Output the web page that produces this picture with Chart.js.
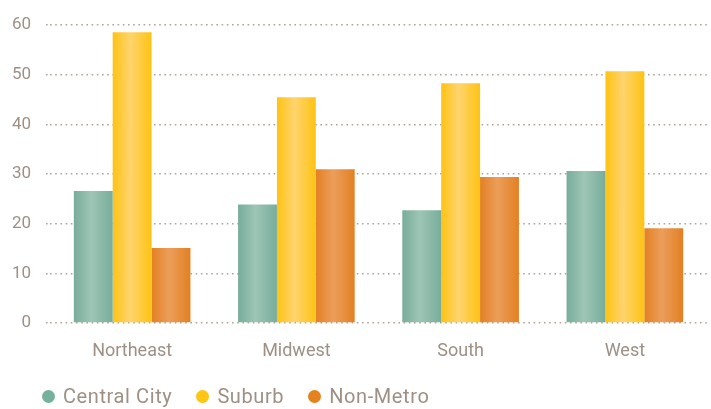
<!DOCTYPE html>
<html>
<head>
<meta charset="utf-8">
<script src="https://cdn.jsdelivr.net/npm/chart.js@4"></script>
<style>
  html, body { margin: 0; padding: 0; background: #fff; }
  #wrap { position: relative; width: 711px; height: 409px; }
  #legend {
    position: absolute; left: 42px; top: 384px;
    display: flex; align-items: center;
    font-family: Roboto, sans-serif; font-size: 20px; letter-spacing: 0.6px; color: #9e9084;
  }
  #legend .item { display: flex; align-items: center; margin-right: 24px; }
  #legend .dot { width: 13px; height: 13px; border-radius: 50%; margin-right: 8px; }
</style>
</head>
<body>
<div id="wrap">
  <canvas id="chart" width="711" height="409"></canvas>
  <div id="legend"></div>
</div>
<script>
const regions = ['Northeast', 'Midwest', 'South', 'West'];
const seriesNames = ['Central City', 'Suburb', 'Non-Metro'];
const centralCity = [26.6, 23.9, 22.7, 30.6];
const suburb = [58.6, 45.5, 48.3, 50.7];
const nonMetro = [15.1, 31.0, 29.4, 19.1];
const yTicks = [0, 10, 20, 30, 40, 50, 60];

// solid colour + [edge, middle] for the gradient
const solidColors = ['#77b09d', '#fdc514', '#e3821f'];
const gradColors = [
    ['#78ad9b', '#9ec5b6'],
    ['#fec312', '#fed46e'],
    ['#e38023', '#eb9e5a']
];

const textColor = '#9e9084';

// paint each bar with a horizontal gradient
const barGradient = {
    id: 'barGradient',
    beforeDatasetsDraw(chart) {
        const ctx = chart.ctx;
        chart.data.datasets.forEach((ds, i) => {
            const meta = chart.getDatasetMeta(i);
            meta.data.forEach(el => {
                const left = el.x - el.width / 2;
                const right = el.x + el.width / 2;
                const g = ctx.createLinearGradient(left, 0, right, 0);
                g.addColorStop(0, gradColors[i][0]);
                g.addColorStop(0.45, gradColors[i][1]);
                g.addColorStop(1, gradColors[i][0]);
                el.options = Object.assign({}, el.options, { backgroundColor: g });
            });
        });
    }
};

const datasets = [centralCity, suburb, nonMetro].map((values, i) => ({
    label: seriesNames[i],
    data: values,
    backgroundColor: solidColors[i],
    borderWidth: 0,
    barPercentage: 1,
    categoryPercentage: 0.71
}));

new Chart(document.getElementById('chart'), {
    type: 'bar',
    data: { labels: regions, datasets: datasets },
    plugins: [barGradient],
    options: {
        responsive: false,
        animation: false,
        layout: { padding: { left: 0, right: 4, top: 21, bottom: 40 } },
        plugins: {
            legend: { display: false },
            tooltip: { enabled: false }
        },
        scales: {
            x: {
                grid: { display: false, drawTicks: false },
                border: { display: false },
                ticks: {
                    color: textColor,
                    padding: 18,
                    font: { family: 'Roboto', size: 18 }
                },
                afterFit: function(scale) { scale.height = 46; }
            },
            y: {
                min: 0,
                max: 60,
                afterBuildTicks: function(scale) {
                    scale.ticks = yTicks.map(v => ({ value: v }));
                },
                grid: {
                    color: '#b0a498',
                    lineWidth: 1.6,
                    tickLength: 4,
                    tickColor: '#b0a498',
                    tickBorderDash: [1.6, 3.6]
                },
                border: { display: false, dash: [1.6, 3.6] },
                ticks: {
                    color: textColor,
                    padding: 15,
                    font: { family: 'Roboto', size: 17 }
                },
                afterFit: function(scale) { scale.width = 50; }
            }
        }
    }
});

// legend built from the same series arrays
const legend = document.getElementById('legend');
seriesNames.forEach((name, i) => {
    const item = document.createElement('div');
    item.className = 'item';
    const dot = document.createElement('span');
    dot.className = 'dot';
    dot.style.background = solidColors[i];
    const label = document.createElement('span');
    label.textContent = name;
    item.appendChild(dot);
    item.appendChild(label);
    legend.appendChild(item);
});
</script>
</body>
</html>
